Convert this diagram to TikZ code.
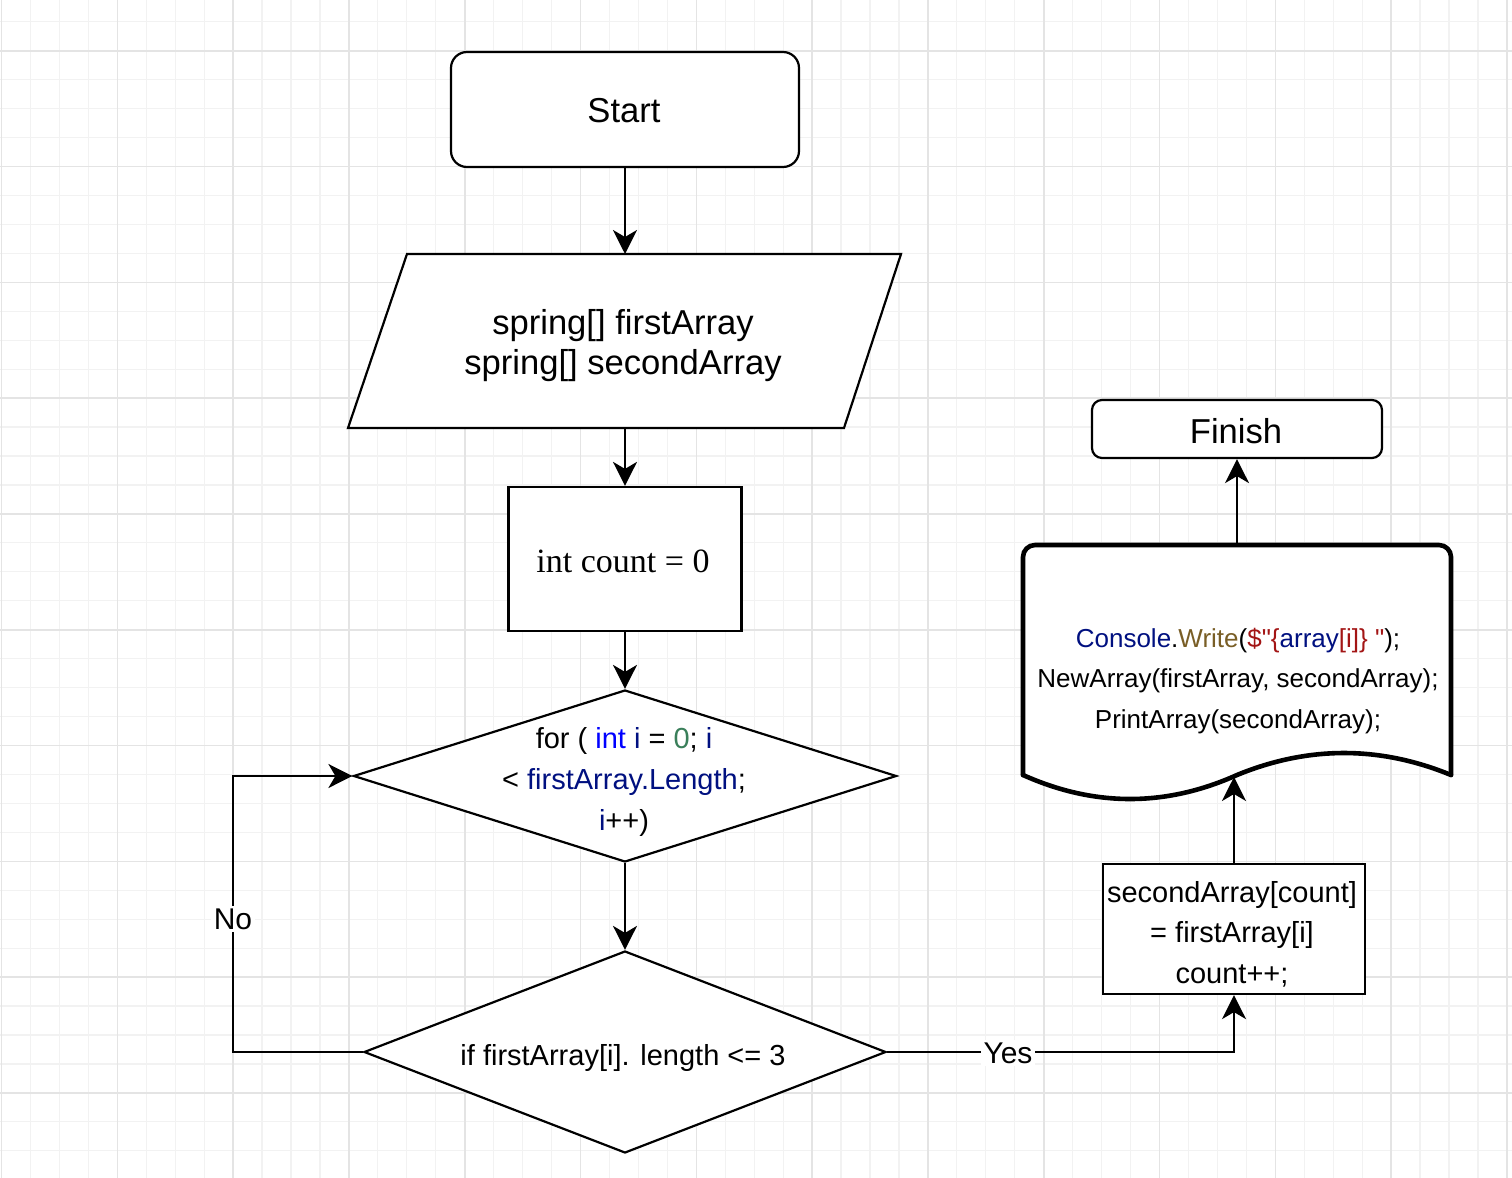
\documentclass[tikz,border=0pt]{standalone}
\usepackage{fontspec}
\setmainfont{Liberation Sans}
\newfontfamily\serifface{Liberation Serif}
\newfontfamily\rawsans{Liberation Sans}
\usetikzlibrary{shapes.geometric,arrows.meta,calc}
\definecolor{navy}{HTML}{001080}
\definecolor{kwblue}{HTML}{0000FF}
\definecolor{numgreen}{HTML}{3A7F5A}
\definecolor{fnbrown}{HTML}{795E26}
\definecolor{strred}{HTML}{A31515}
\definecolor{gridminor}{HTML}{F2F2F2}
\definecolor{gridmajor}{HTML}{E4E4E4}
\begin{document}
\begin{tikzpicture}[x=0.5pt,y=-0.5pt,
  shapebox/.style={draw, line width=1.1pt, fill=white, inner sep=0pt},
  terminal/.style={shapebox, rounded corners=8pt},
  decision/.style={shapebox, diamond},
  ghost/.style={inner sep=0pt, outer sep=0pt},
  lbl/.style={inner sep=0pt, align=center},
  bigtext/.style={font=\fontsize{17.3}{20}\selectfont},
  midtext/.style={font=\fontsize{14.5}{20.3}\selectfont},
  smalltext/.style={font=\rawsans\fontsize{13}{20.2}\selectfont},
  edgelabel/.style={fill=white, inner sep=1.5pt, font=\fontsize{15}{18}\selectfont},
  arr/.style={line width=1.1pt, -{Stealth[length=12pt, width=12pt, inset=3.5pt]}},
  docline/.style={line width=2.3pt, line cap=round, line join=round},
  minorline/.style={draw=gridminor, line width=0.6pt},
  majorline/.style={draw=gridmajor, line width=0.8pt}]
\useasboundingbox (0,0) rectangle (1512,1178);
\fill[white] (0,0) rectangle (1512,1178);
% grid
\foreach \i in {0,...,52} \draw[minorline] ({1.5+28.95*\i},0) -- ({1.5+28.95*\i},1178);
\foreach \i in {-2,...,39} \draw[minorline] (0,{50.7+28.95*\i}) -- (1512,{50.7+28.95*\i});
\foreach \i in {0,...,13} \draw[majorline] ({1.5+115.8*\i},0) -- ({1.5+115.8*\i},1178);
\foreach \i in {-1,...,9} \draw[majorline] (0,{50.7+115.8*\i}) -- (1512,{50.7+115.8*\i});

% Start
\node[terminal, minimum width=174pt, minimum height=57.5pt] (start) at (625,109.5) {};
\node[lbl, bigtext] (starttext) at (624,111) {Start};

% input parallelogram
\draw[line width=1.1pt, fill=white] (348,428) -- (407,254) -- (901,254) -- (844,428) -- cycle;
\node[ghost, minimum width=250pt, minimum height=87pt] (inp) at (625,341) {};
\node[lbl, bigtext] (inptext) at (623,346) {spring[] firstArray\\spring[] secondArray};

% int count
\node[shapebox, minimum width=116.5pt, minimum height=72pt] (cnt) at (625,559) {};
\node[lbl, font=\serifface\fontsize{17}{20}\selectfont] (cnttext) at (623,561) {int count = 0};

% for diamond
\node[decision, minimum width=271.5pt, minimum height=86pt] (for) at (625,776) {};
\node[lbl, midtext] (fortext) at (624,782) {for ( \textcolor{kwblue}{int} \textcolor{navy}{i} = \textcolor{numgreen}{0}; \textcolor{navy}{i}\\
< \textcolor{navy}{firstArray.Length};\\
\textcolor{navy}{i}++)};

% if diamond
\node[decision, minimum width=261pt, minimum height=101pt] (if) at (625,1052) {};
\node[lbl, midtext] (iftext) at (623,1058) {if firstArray[i]. length <= 3};

% assignment box
\node[shapebox, minimum width=131pt, minimum height=65pt] (sec) at (1234,929) {};
\node[lbl, midtext] (sectext) at (1232,934) {secondArray[count]\\= firstArray[i]\\count++;};

% document shape
\fill[white] (1023,775) -- (1023,545) -- (1451,545) -- (1451,775) .. controls (1379.7,745.7) and (1308.3,745.7) .. (1237,775) .. controls (1165.7,807) and (1094.3,807) .. (1023,775) -- cycle;
\draw[docline, rounded corners=6pt] (1023,775) -- (1023,545) -- (1451,545) -- (1451,775);
\draw[docline] (1451,775) .. controls (1379.7,745.7) and (1308.3,745.7) .. (1237,775) .. controls (1165.7,807) and (1094.3,807) .. (1023,775);
\node[ghost, minimum width=214pt, minimum height=116pt] (doc) at (1237,661) {};
\node[lbl, smalltext] (doctext) at (1238,681) {\textcolor{navy}{Console}.\textcolor{fnbrown}{Write}(\textcolor{strred}{\$"\{}\textcolor{navy}{array}\textcolor{strred}{[i]\} "});\\
NewArray(firstArray, secondArray);\\
PrintArray(secondArray);};

% Finish
\node[terminal, minimum width=145pt, minimum height=29pt, rounded corners=5pt] (fin) at (1237,429) {};
\node[lbl, bigtext] (fintext) at (1236,431) {Finish};

% connectors
\draw[arr] (start.south) -- (inp.north);
\draw[arr] (inp.south) -- (cnt.north);
\draw[arr] (cnt.south) -- (for.north);
\draw[arr] (for.south) -- (if.north);
\coordinate (nocorner) at (233,1052);
\draw[arr] (if.west) -- (nocorner) |- (for.west);
\node[edgelabel] (nolabel) at (233,919) {No};
\draw[arr] (if.east) -| (sec.south);
\node[edgelabel] (yeslabel) at (1008,1053) {Yes};
\draw[arr] (sec.north) -- (sec.north |- doc.south);
\draw[arr] (doc.north -| fin.south) -- (fin.south);
\end{tikzpicture}
\end{document}
